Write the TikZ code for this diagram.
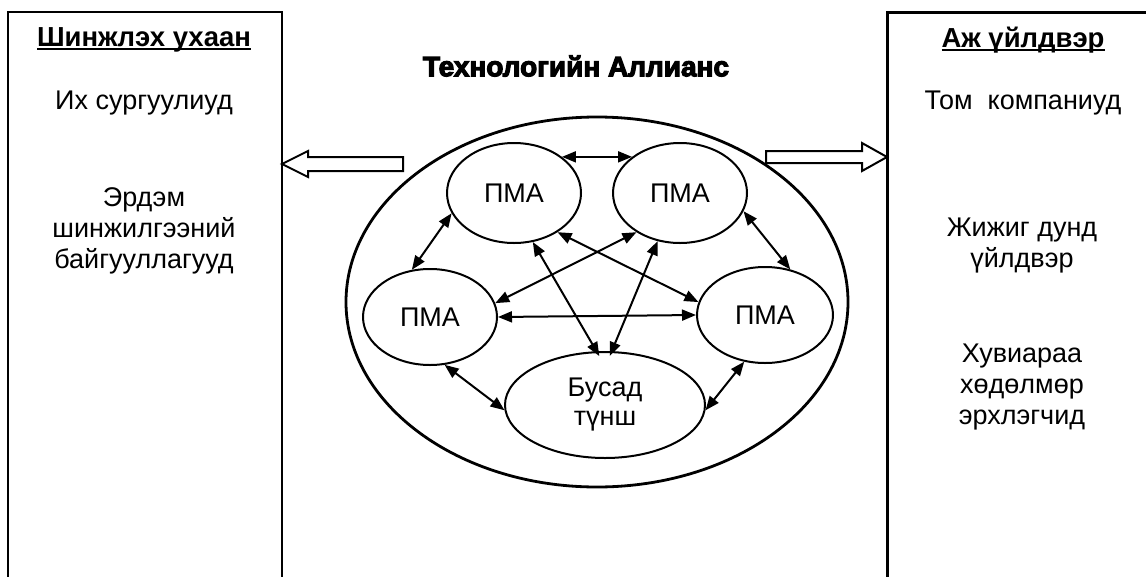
\documentclass[tikz,border=0pt]{standalone}
\usepackage{fontspec}
\setmainfont{Liberation Sans}
\newfontfamily\heavyfont[BoldFeatures={FakeBold=4}]{Liberation Sans}
\usetikzlibrary{shapes.geometric,arrows.meta}
\newcommand\myul[1]{\setbox0\hbox{#1}\rlap{\rule[-3.5pt]{\wd0}{1.8pt}}\box0}
\begin{document}
\begin{tikzpicture}[x=1pt,y=-1pt,
  txt/.style={font=\fontsize{27}{31}\selectfont, align=center, inner sep=0pt},
  hdr/.style={font=\fontsize{27.5}{31}\selectfont\bfseries, inner sep=0pt},
  pma/.style={draw, ellipse, line width=2pt, minimum width=134pt, minimum height=100pt, inner sep=0pt, font=\fontsize{27}{29}\selectfont, align=center},
  link/.style={line width=2pt, {Triangle[length=14pt,width=11pt]}-{Triangle[length=14pt,width=11pt]}},
  blockarrow/.style={draw, line width=2pt, fill=white, line join=miter}
]
\clip (0,0) rectangle (1146,576);
\fill[white] (0,0) rectangle (1146,576);
% side boxes
\draw[line width=2.6pt] (8,600) -- (8,12) -- (282,12) -- (282,600);
\draw[line width=3pt] (887,600) -- (887,12) -- (1160,12);
% left texts
\node[hdr] (sci) at (144,40) {\myul{Шинжлэх ухаан}};
\node[txt] (univ) at (144,103) {Их сургуулиуд};
\node[txt] (res) at (144,231) {Эрдэм\\шинжилгээний\\байгууллагууд};
% right texts
\node[hdr] (ind) at (1023,40) {\myul{Аж үйлдвэр}};
\node[txt] (big) at (1023,103) {Том\ \ компаниуд};
\node[txt] (sme) at (1022,246) {Жижиг дунд\\үйлдвэр};
\node[txt] (self) at (1022,387) {Хувиараа\\хөдөлмөр\\эрхлэгчид};
% title
\node[font=\fontsize{28}{30}\selectfont\heavyfont\bfseries, inner sep=0pt] (title) at (576,66) {Технологийн Аллианс};
% outer ellipse
\node[draw, ellipse, line width=2.8pt, minimum width=502pt, minimum height=370pt, inner sep=0pt] (outer) at (597,302) {};
% inner ellipses
\node[pma] (tl) at (514,193) {ПМА};
\node[pma] (tr) at (680,193) {ПМА};
\node[pma, minimum height=96pt] (l) at (430,317) {ПМА};
\node[pma, minimum width=136pt, minimum height=96pt] (r) at (765,315) {ПМА};
\node[pma, minimum width=200pt, minimum height=106pt] (b) at (605,405) {Бусад\\түнш};
% links
\draw[link] (tl.37) -- (tr.143);
\draw[link] (tl.198) -- (l.111);
\draw[link] (tr.344) -- (r.61);
\draw[link] (l.287) -- (b.183);
\draw[link] (r.246) -- (b.357);
\draw[link] (l.east) -- (r.west);
\draw[link] (tl.291) -- ([yshift=-5pt]b.96);
\draw[link] (tr.245) -- ([yshift=-5pt]b.85);
\draw[link] (tl.318) -- (r.169);
\draw[link] (tr.222) -- (l.12);
% block arrows
\coordinate (la) at (282,164);
\coordinate (ra) at (887,157);
\draw[blockarrow] (la) -- ++(26,-13) -- ++(0,6) -- ++(95,0) -- ++(0,14) -- ++(-95,0) -- ++(0,6) -- cycle;
\draw[blockarrow] (ra) -- ++(-25,-14) -- ++(0,8) -- ++(-96,0) -- ++(0,12) -- ++(96,0) -- ++(0,8) -- cycle;
\end{tikzpicture}
\end{document}
